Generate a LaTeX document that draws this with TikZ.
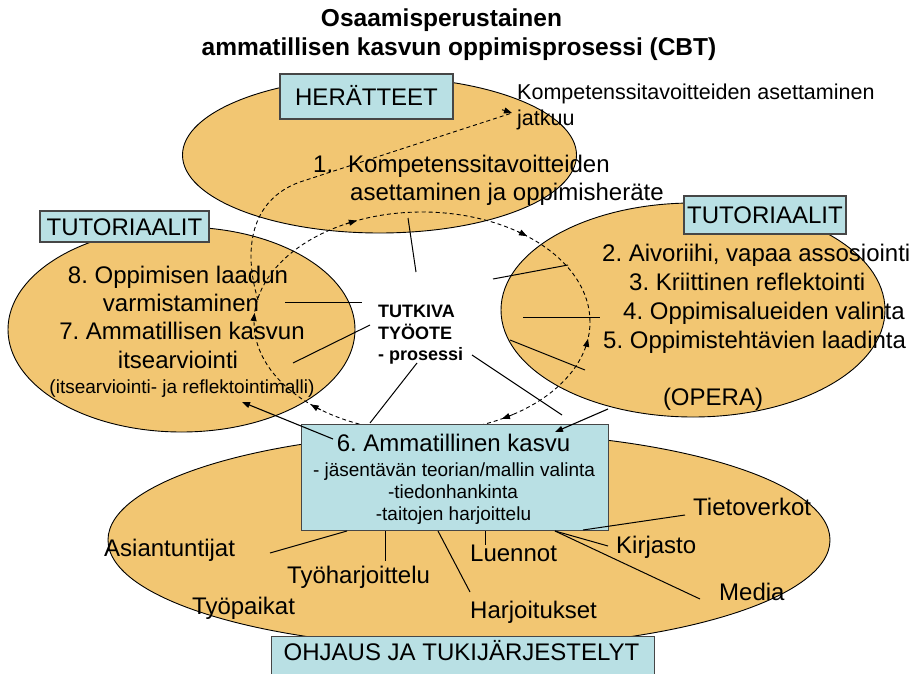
\documentclass[tikz,border=0pt]{standalone}
\usepackage{fontspec}
\setmainfont{Liberation Sans}
\usetikzlibrary{arrows.meta,shapes.geometric,calc}
\definecolor{ellfill}{RGB}{242,198,114}
\definecolor{boxfill}{RGB}{185,224,228}
\definecolor{boxdraw}{RGB}{70,70,70}
\newcommand\ctip[2]{\draw[tipline] (C) ++(#1:168 and 110) arc[start angle=#1, end angle=#2, x radius=168, y radius=110];}
\frenchspacing
\begin{document}
\begin{tikzpicture}[x=1pt,y=1pt,
  ell/.style={ellipse,draw=black,line width=0.9pt,fill=ellfill,inner sep=0pt},
  lbl/.style={rectangle,draw=boxdraw,line width=1.2pt,fill=boxfill,inner sep=0pt,
     font=\fontsize{24}{28}\selectfont,text height=17.2pt,text depth=0pt},
  big/.style={font=\fontsize{24}{28}\selectfont,inner sep=0pt},
  small/.style={font=\fontsize{19}{22}\selectfont,inner sep=0pt},
  mid/.style={font=\fontsize{21.5}{25}\selectfont,inner sep=0pt},
  bld/.style={font=\bfseries\fontsize{18}{22}\selectfont,inner sep=0pt},
  ttl/.style={font=\bfseries\fontsize{24.5}{29}\selectfont,inner sep=0pt},
  ln/.style={line width=1pt},
  arr/.style={line width=1.1pt,-{Triangle[length=8pt,width=6pt]}},
  dsh/.style={line width=0.9pt,dash pattern=on 4pt off 3pt},
  tipline/.style={line width=0.9pt,-{Triangle[length=8pt,width=6pt]}},
]
\useasboundingbox (0,0) rectangle (918,-674);
% ellipses
\node[ell,minimum width=394,minimum height=156] (e1) at (379.5,-155) {};
\node[ell,minimum width=347,minimum height=205] (e2) at (181.5,-329.5) {};
\node[ell,minimum width=384,minimum height=214] (e3) at (693,-310) {};
\node[ell,minimum width=722,minimum height=216] (e4) at (469,-540) {};
% title
\node[ttl,anchor=base] (t1) at (441.5,-27) {Osaamisperustainen};
\node[ttl,anchor=base] (t2) at (459,-56) {ammatillisen kasvun oppimisprosessi (CBT)};
% label boxes
\node[lbl,minimum width=173,minimum height=45] (herat) at (366.5,-96.5) {HERÄTTEET};
\node[lbl,minimum width=169,minimum height=31] (tutL) at (124.5,-226.5) {TUTORIAALIT};
\node[lbl,minimum width=162,minimum height=38] (tutR) at (765,-215) {TUTORIAALIT};
% top-right text
\node[mid,anchor=base west] (jat1) at (517,-100) {Kompetenssitavoitteiden asettaminen};
\node[mid,anchor=base west] (jat2) at (517,-125) {jatkuu};
% ellipse 1 text
\node[big,anchor=base west] (k0) at (313,-172.5) {1.};
\node[big,anchor=base west] (k1) at (348,-172.5) {Kompetenssitavoitteiden};
\node[big,anchor=base west] (k2) at (350,-200.5) {asettaminen ja oppimisheräte};
% ellipse 2 text
\node[big,anchor=base] (l1) at (178,-283) {8. Oppimisen laadun};
\node[big,anchor=base] (l2) at (181,-311) {varmistaminen};
\node[big,anchor=base] (l3) at (182,-339.5) {7. Ammatillisen kasvun};
\node[big,anchor=base] (l4) at (178,-368) {itsearviointi};
\node[small,anchor=base] (l5) at (182,-393) {(itsearviointi- ja reflektointimalli)};
% ellipse 3 text
\node[big,anchor=base west] (r1) at (602,-261.5) {2. Aivoriihi, vapaa assosiointi};
\node[big,anchor=base west] (r2) at (629,-290) {3. Kriittinen reflektointi};
\node[big,anchor=base west] (r3) at (623,-319.5) {4. Oppimisalueiden valinta};
\node[big,anchor=base west] (r4) at (603,-348) {5. Oppimistehtävien laadinta};
\node[big,anchor=base] (r5) at (713,-405) {(OPERA)};
% centre
\node[bld,anchor=base west] (c1) at (378,-317.5) {TUTKIVA};
\node[bld,anchor=base west] (c2) at (378,-339.5) {TYÖOTE};
\node[bld,anchor=base west] (c3) at (378,-360) {- prosessi};
% central dashed cycle
\coordinate (C) at (422,-322);
\draw[dsh] (C) ellipse [x radius=168, y radius=110];
\ctip{-127}{-131.5}
\ctip{179}{175.3}
\ctip{117}{112.8}
\ctip{55}{51.3}
\ctip{-13}{-8.8}
\ctip{-57}{-61.6}
% continuing curve
\coordinate (aS) at (258,-300);
\coordinate (aM) at (300,-182);
\coordinate (aE) at (512,-113);
\draw[dsh] (aS) .. controls (243,-250) and (250,-200) .. (aM) -- (aE);
\draw[tipline] ($(aE)+(-10,3.3)$) -- (aE);
% spokes
\coordinate (p1a) at (408,-218); \coordinate (p1b) at (416,-272);
\coordinate (p2a) at (493,-279); \coordinate (p2b) at (568,-265);
\coordinate (p3a) at (523,-317); \coordinate (p3b) at (600,-317);
\coordinate (p4a) at (510,-340); \coordinate (p4b) at (585,-370);
\coordinate (p5a) at (472,-355); \coordinate (p5b) at (562,-415);
\coordinate (p6a) at (417,-363); \coordinate (p6b) at (370,-423);
\coordinate (p7a) at (285,-302); \coordinate (p7b) at (362,-302);
\coordinate (p8a) at (293,-363); \coordinate (p8b) at (370,-325);
\foreach \i in {1,...,8} {\draw[ln] (p\i a) -- (p\i b);}
% box 6
\node[rectangle,draw=boxdraw,line width=1.2pt,fill=boxfill,minimum width=307,minimum height=106,anchor=north west] (box6) at (301,-424) {};
\node[big,anchor=base] (b1) at (453.5,-451.5) {6. Ammatillinen kasvu};
\node[small,anchor=base] (b2) at (454,-476.5) {- jäsentävän teorian/mallin valinta};
\node[small,anchor=base] (b3) at (453,-498) {-tiedonhankinta};
\node[small,anchor=base] (b4) at (453.5,-520) {-taitojen harjoittelu};
% solid arrows
\coordinate (s1) at (333,-439); \coordinate (s1e) at (242,-402);
\coordinate (s2) at (608,-409); \coordinate (s2e) at (555,-432);
\draw[arr] (s1) -- (s1e);
\draw[arr] (s2) -- (s2e);
% resources
\node[big,anchor=base west] (n1) at (104,-556.5) {Asiantuntijat};
\node[big,anchor=base west] (n2) at (287,-583) {Työharjoittelu};
\node[big,anchor=base west] (n3) at (192,-614) {Työpaikat};
\node[big,anchor=base west] (n4) at (470,-561) {Luennot};
\node[big,anchor=base west] (n5) at (470,-618) {Harjoitukset};
\node[big,anchor=base west] (n6) at (693,-515) {Tietoverkot};
\node[big,anchor=base west] (n7) at (616,-553) {Kirjasto};
\node[big,anchor=base west] (n8) at (719,-600.5) {Media};
\coordinate (q1a) at (347,-531); \coordinate (q1b) at (270,-553);
\coordinate (q2a) at (385,-531); \coordinate (q2b) at (385,-561);
\coordinate (q3a) at (438,-531); \coordinate (q3b) at (470,-592);
\coordinate (q4a) at (485,-531); \coordinate (q4b) at (485,-545);
\coordinate (q5a) at (583,-530); \coordinate (q5b) at (685,-515);
\coordinate (q6a) at (555,-531); \coordinate (q6b) at (608,-546);
\coordinate (q7a) at (555,-531); \coordinate (q7b) at (700,-599);
\foreach \i in {1,...,7} {\draw[ln] (q\i a) -- (q\i b);}
% bottom box
\node[rectangle,draw=boxdraw,line width=1.2pt,fill=boxfill,minimum width=383,minimum height=60,anchor=north west] (ohj) at (271,-636) {};
\node[big,anchor=base] (ohjt) at (461.5,-660.5) {OHJAUS JA TUKIJÄRJESTELYT};
\end{tikzpicture}
\end{document}
